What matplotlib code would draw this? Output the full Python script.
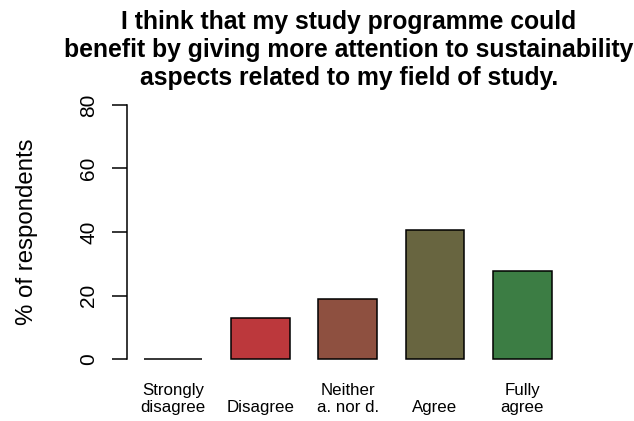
import numpy as np
import matplotlib
matplotlib.use("Agg")
import matplotlib.pyplot as plt

plt.rcParams['font.family'] = ['Liberation Sans', 'DejaVu Sans']

# survey answers, % of respondents
categories = ["Strongly\ndisagree", "\nDisagree", "Neither\na. nor d.", "\nAgree", "Fully\nagree"]
percent = [0.0, 12.9, 18.8, 40.5, 27.6]
colors = ["#c0393c", "#bc383c", "#8e5040", "#686540", "#3c7d44"]
yticks = [0, 20, 40, 60, 80]
title = ("I think that my study programme could\n"
         "benefit by giving more attention to sustainability\n"
         "aspects related to my field of study.")

fig = plt.figure(figsize=(6.34, 4.21), dpi=100)
ax = fig.add_axes([127/634, 1 - 369.2/421, 441.4/634, 274.4/421])

x = np.arange(len(percent))
ax.bar(x, percent, width=0.671, color=colors, edgecolor='black', linewidth=1.1)

ax.set_xlim(-0.527, 4.527)
ax.set_ylim(-3.2, 83.2)
for s in ['top', 'right', 'bottom']:
    ax.spines[s].set_visible(False)
ax.spines['left'].set_bounds(0, 80)
ax.spines['left'].set_linewidth(1.1)

ax.set_yticks(yticks)
ax.set_yticklabels([str(v) for v in yticks], rotation=90, va='center', fontsize=15)
ax.tick_params(axis='y', length=10.8, width=1.1, pad=10)

ax.set_xticks(x)
ax.set_xticklabels(categories, fontsize=12.2, linespacing=1.15)
ax.tick_params(axis='x', length=0, pad=10)

fig.text(27/634, 0.5 * ((1 - 369.2/421) + (1 - 94.8/421)), "% of respondents",
         rotation=90, ha='center', va='center', fontsize=17.3)

fig.text(349/634, 1 - 85/421, title, ha='center', va='baseline',
         fontsize=17.8, fontweight='bold', linespacing=1.22)

fig.savefig("out.png", dpi=100)
